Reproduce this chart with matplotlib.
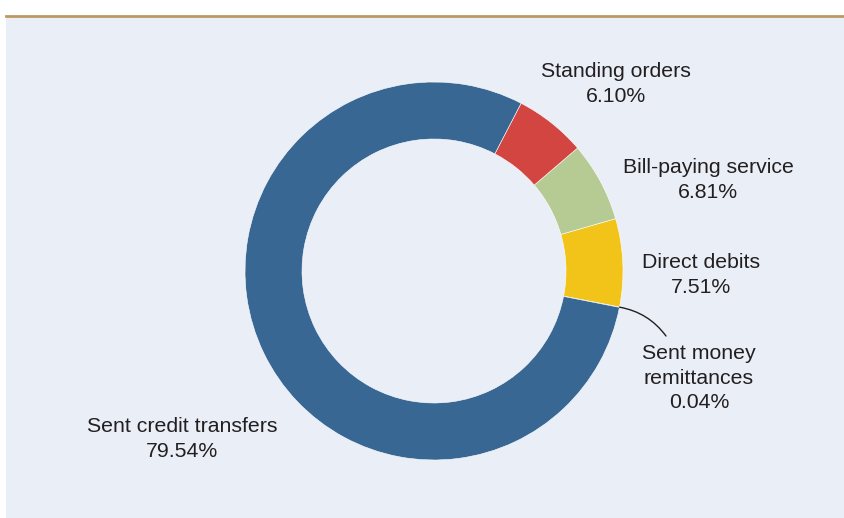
import numpy as np
import matplotlib.pyplot as plt
from matplotlib.patches import Rectangle

# data
labels = ['Sent money\nremittances', 'Direct debits', 'Bill-paying service',
          'Standing orders', 'Sent credit transfers']
shares = [0.04, 7.51, 6.81, 6.10, 79.54]
colors = ['#386794', '#f2c318', '#b5cb93', '#d24540', '#386794']

plt.rcParams['font.family'] = ['Liberation Sans', 'DejaVu Sans']
txt = '#231f20'

fig = plt.figure(figsize=(8.45, 5.18), dpi=100)
ax = fig.add_axes([0, 0, 1, 1])

# panel + top rule
ax.add_patch(Rectangle((6, 0), 839, 502, facecolor='#e9eef7', edgecolor='none', zorder=0))
ax.plot([6, 845], [502, 502], color='#bb9a60', lw=2, zorder=1)

start = -11.1
cx, cy, R = 434, 247, 189
wedges, _ = ax.pie(shares, colors=colors, startangle=start, counterclock=True,
                   center=(cx, cy), radius=R, frame=True,
                   wedgeprops=dict(width=57, edgecolor='white', linewidth=0.4))
ax.set_xlim(0, 845)
ax.set_ylim(0, 518)
ax.set_aspect('equal')
ax.axis('off')

fs = 15.3
ls = 1.35
ax.text(616, 434, 'Standing orders\n%.2f%%' % shares[3], ha='center', va='center',
        fontsize=fs, color=txt, linespacing=ls)
ax.text(708, 338, 'Bill-paying service\n%.2f%%' % shares[2], ha='center', va='center',
        fontsize=fs, color=txt, linespacing=ls)
ax.text(701, 243, 'Direct debits\n%.2f%%' % shares[1], ha='center', va='center',
        fontsize=fs, color=txt, linespacing=ls)
ax.text(699, 140, 'Sent money\nremittances\n%.2f%%' % shares[0], ha='center', va='center',
        fontsize=fs, color=txt, linespacing=ls)
ax.text(182, 79, 'Sent credit transfers\n%.2f%%' % shares[4], ha='center', va='center',
        fontsize=fs, color=txt, linespacing=ls)

# leader for the tiny slice
ang = np.deg2rad(start + shares[0] * 3.6 / 2)
ax.annotate('', xy=(cx + R * np.cos(ang), cy + R * np.sin(ang)), xytext=(666, 182),
            arrowprops=dict(arrowstyle='-', color=txt, lw=1,
                            connectionstyle='arc3,rad=0.2', shrinkA=0, shrinkB=0))

fig.savefig('out.png', dpi=100)
